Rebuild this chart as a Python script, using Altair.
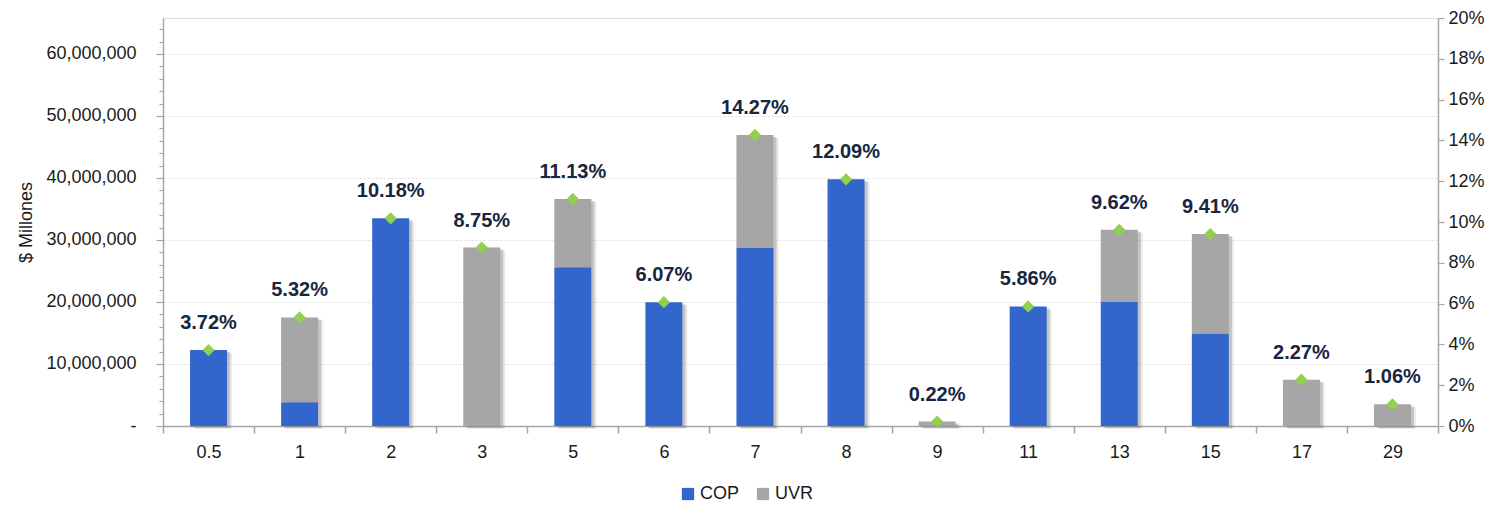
import altair as alt
import pandas as pd

# ---- data ----
plazos = ["0.5", "1", "2", "3", "5", "6", "7", "8", "9", "11", "13", "15", "17", "29"]
cop = [12_240_000, 3_850_000, 33_500_000, 0, 25_600_000, 19_970_000, 28_700_000,
       39_800_000, 0, 19_280_000, 20_000_000, 14_900_000, 0, 0]
uvr = [0, 13_650_000, 0, 28_800_000, 11_000_000, 0, 18_250_000,
       0, 720_000, 0, 11_650_000, 16_060_000, 7_470_000, 3_490_000]
pct = [3.72, 5.32, 10.18, 8.75, 11.13, 6.07, 14.27, 12.09, 0.22, 5.86, 9.62, 9.41, 2.27, 1.06]
series = ["COP", "UVR"]
colors = ["#3366CC", "#A6A6A6"]

left_max = 65_800_000
left_ticks = list(range(0, 64_000_001, 2_000_000))
right_ticks = [i / 100 for i in range(0, 21, 2)]

FONT = "Liberation Sans"

rows = []
for p, c, u in zip(plazos, cop, uvr):
    rows.append({"plazo": p, "serie": "COP", "valor": c, "orden": 0})
    rows.append({"plazo": p, "serie": "UVR", "valor": u, "orden": 1})
bars_df = pd.DataFrame(rows)
tot_df = pd.DataFrame({
    "plazo": plazos,
    "total": [c + u for c, u in zip(cop, uvr)],
    "pct": [v / 100 for v in pct],
})

x_enc = alt.X("plazo:N", sort=plazos,
              scale=alt.Scale(paddingInner=0, paddingOuter=0),
              axis=alt.Axis(title=None, labelAngle=0, tickBand="extent", tickSize=7,
                            labelFontSize=18, labelFont=FONT, labelColor="#1a1a1a",
                            labelPadding=10, domainColor="#A6A6A6", domainWidth=1.5,
                            tickColor="#A6A6A6", tickWidth=1.5))

major = "datum.value % 10000000 == 0"
left_axis = alt.Axis(title="$ Millones", titleFont=FONT, titleFontSize=18,
                     titleFontWeight="normal", titleColor="#1a1a1a", titlePadding=10,
                     values=left_ticks,
                     labelExpr="datum.value == 0 ? '-\u00a0\u00a0' : (" + major +
                               " ? format(datum.value, ',') : '')",
                     labelFontSize=18, labelFont=FONT, labelColor="#1a1a1a",
                     labelPadding=20,
                     tickSize={"condition": {"test": major, "value": 7}, "value": 4},
                     tickColor="#A6A6A6", tickWidth=1.2,
                     domainColor="#A6A6A6", domainWidth=1.5,
                     grid=True, gridColor="#DCDCDC", gridDash=[2, 2],
                     gridOpacity={"condition": {"test": major + " && datum.value > 0",
                                                "value": 1}, "value": 0})
left_scale = alt.Scale(domain=[0, left_max], nice=False, zero=True)

shadow1 = alt.Chart(tot_df).mark_bar(size=37, xOffset=3, yOffset=2, color="#7a7a7a",
                                     opacity=0.35).encode(
    x=x_enc,
    y=alt.Y("total:Q", scale=left_scale, axis=left_axis),
)
shadow2 = alt.Chart(tot_df).mark_bar(size=37, xOffset=5, yOffset=3, color="#7a7a7a",
                                     opacity=0.15).encode(
    x=x_enc,
    y=alt.Y("total:Q", scale=left_scale, axis=left_axis),
)

bars = alt.Chart(bars_df).mark_bar(size=37).encode(
    x=x_enc,
    y=alt.Y("valor:Q", stack="zero", scale=left_scale, axis=left_axis),
    color=alt.Color("serie:N", scale=alt.Scale(domain=series, range=colors),
                    legend=alt.Legend(title=None, orient="none", legendX=516, legendY=467,
                                      direction="horizontal", symbolType="square",
                                      symbolSize=150, symbolStrokeWidth=0,
                                      labelFontSize=18, labelFont=FONT,
                                      labelColor="#1a1a1a", columnPadding=14,
                                      labelOffset=3)),
    order=alt.Order("orden:Q"),
)

y_right = alt.Y("pct:Q", scale=alt.Scale(domain=[0, 0.2], nice=False),
                axis=alt.Axis(title=None, orient="right", values=right_ticks, format=".0%",
                              labelFontSize=18, labelFont=FONT, labelColor="#1a1a1a",
                              labelPadding=4, tickSize=6, tickColor="#A6A6A6",
                              tickWidth=1.2, domainColor="#A6A6A6", domainWidth=1.5,
                              grid=False))

points = alt.Chart(tot_df).mark_point(shape="diamond", filled=True, size=150,
                                      color="#92D050", opacity=1).encode(
    x=x_enc, y=y_right)

labels = alt.Chart(tot_df).mark_text(dy=-21, baseline="alphabetic", fontSize=20,
                                     fontWeight="bold", font=FONT, color="#16263F").encode(
    x=x_enc, y=y_right,
    text=alt.Text("pct:Q", format=".2%"))

left_layer = alt.layer(shadow2, shadow1, bars)
right_layer = alt.layer(points, labels)

chart = alt.layer(left_layer, right_layer).resolve_scale(y="independent").properties(
    width=1275, height=408,
    autosize=alt.AutoSizeParams(type="none"),
    padding={"left": 155, "top": 10, "right": 55, "bottom": 79},
    title=alt.TitleParams("Perfil por Plazo al Vencimiento (Años)", fontSize=20,
                          fontWeight="bold", font=FONT, color="#000000", anchor="middle",
                          frame="group", baseline="alphabetic", offset=5, dx=-48),
).configure_view(stroke=None).configure(background="white")

chart.save("out.html", embed_options={"renderer": "svg", "actions": False})
